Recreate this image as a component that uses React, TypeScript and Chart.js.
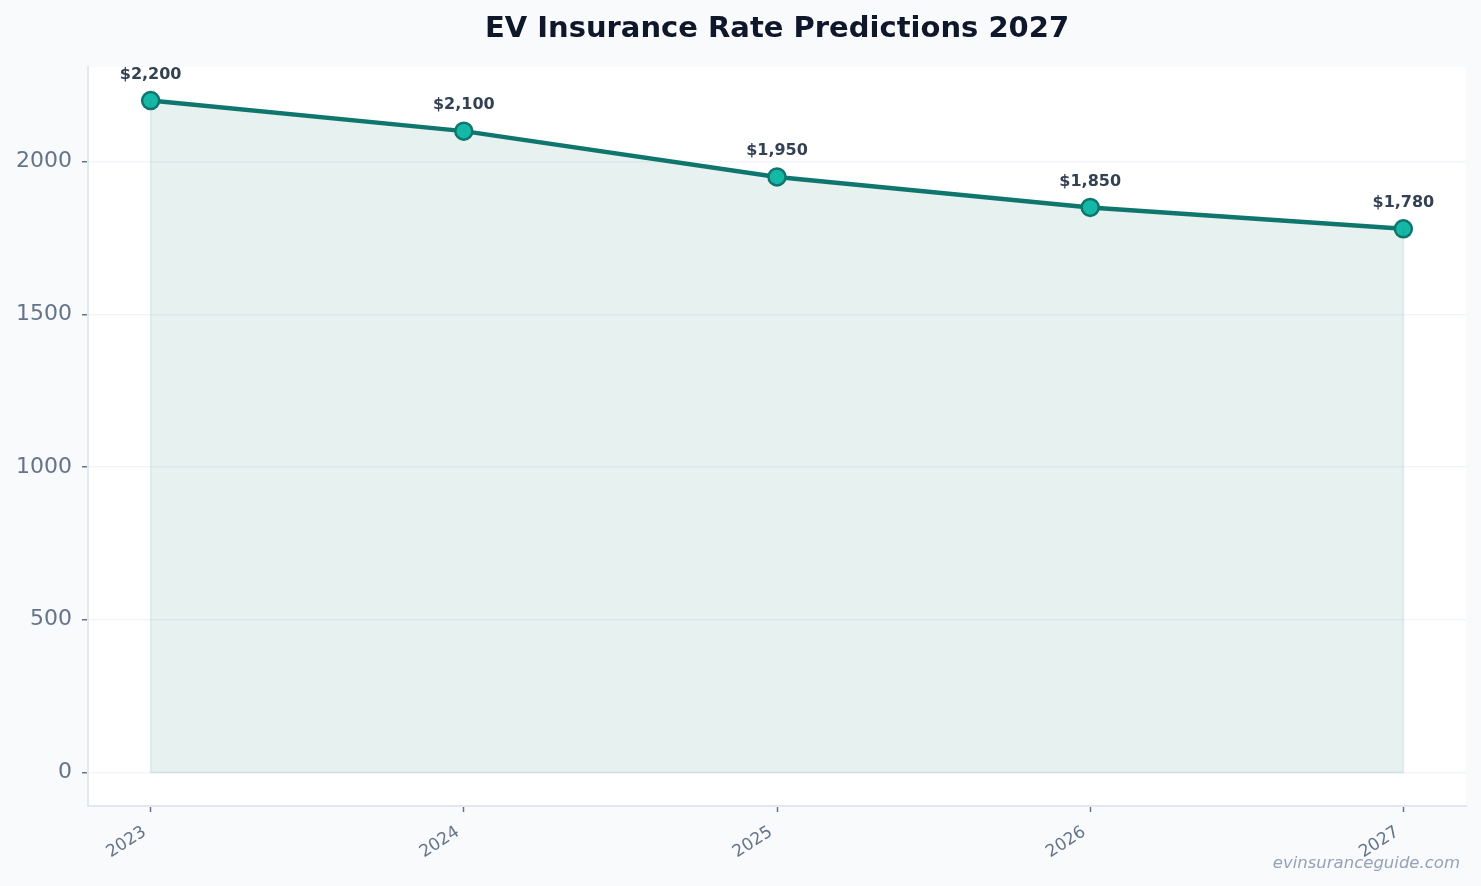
import { useEffect, useRef } from "react";
import { Chart, registerables } from "chart.js";

Chart.register(...registerables);

const years = [2023, 2024, 2025, 2026, 2027];
const rates = [2200, 2100, 1950, 1850, 1780];
const yTicks = [0, 500, 1000, 1500, 2000];

const FONT = "'DejaVu Sans', sans-serif";

const pagePlugin = {
  id: "page",
  beforeDraw(chart: any) {
    const { ctx, chartArea: a } = chart;
    ctx.save();
    ctx.fillStyle = "#f8fafc";
    ctx.fillRect(0, 0, chart.width, chart.height);
    ctx.fillStyle = "#ffffff";
    ctx.fillRect(a.left, a.top, a.right - a.left, a.bottom - a.top);
    ctx.restore();
  },
  afterDatasetsDraw(chart: any) {
    // thin edges of the filled area, like the reference
    const { ctx } = chart;
    const meta = chart.getDatasetMeta(0);
    const y0 = chart.scales.y.getPixelForValue(0);
    const first = meta.data[0];
    const last = meta.data[meta.data.length - 1];
    ctx.save();
    ctx.strokeStyle = "rgba(15,118,110,0.12)";
    ctx.lineWidth = 1.5;
    ctx.beginPath();
    ctx.moveTo(first.x, first.y);
    ctx.lineTo(first.x, y0);
    ctx.lineTo(last.x, y0);
    ctx.lineTo(last.x, last.y);
    ctx.stroke();
    ctx.restore();
  },
  afterDraw(chart: any) {
    const { ctx, chartArea: a } = chart;
    ctx.save();
    // title
    ctx.fillStyle = "#0f172a";
    ctx.font = `bold 29px ${FONT}`;
    ctx.textAlign = "center";
    ctx.textBaseline = "alphabetic";
    ctx.fillText("EV Insurance Rate Predictions 2027", (a.left + a.right) / 2, 37);

    // value labels
    const meta = chart.getDatasetMeta(0);
    ctx.font = `bold 16px ${FONT}`;
    ctx.fillStyle = "#334155";
    ctx.textBaseline = "middle";
    meta.data.forEach((pt: any, i: number) => {
      ctx.fillText("$" + rates[i].toLocaleString("en-US"), pt.x, pt.y - 26);
    });

    // watermark
    ctx.font = `italic 16.5px ${FONT}`;
    ctx.fillStyle = "#94a3b8";
    ctx.textAlign = "right";
    ctx.textBaseline = "alphabetic";
    ctx.fillText("evinsuranceguide.com", chart.width - 21, 868);
    ctx.restore();
  },
};

export default function App() {
  const canvasRef = useRef<HTMLCanvasElement | null>(null);
  const chartRef = useRef<Chart | null>(null);

  useEffect(() => {
    document.body.style.margin = "0";
    if (!canvasRef.current) return;
    const ctx = canvasRef.current.getContext("2d");
    if (!ctx) return;

    chartRef.current = new Chart(ctx, {
      type: "line",
      data: {
        datasets: [
          {
            data: years.map((y, i) => ({ x: y, y: rates[i] })),
            borderColor: "#0f766e",
            borderWidth: 4.5,
            backgroundColor: "rgba(15,118,110,0.1)",
            fill: "origin",
            tension: 0,
            pointRadius: 8.5,
            pointBorderWidth: 2.5,
            pointBackgroundColor: "#14b8a6",
            pointBorderColor: "#0f766e",
          },
        ],
      },
      options: {
        animation: false,
        responsive: true,
        maintainAspectRatio: false,
        layout: { padding: { top: 67, right: 15, left: 0, bottom: 0 } },
        plugins: {
          legend: { display: false },
          tooltip: { enabled: false },
          title: { display: false },
        },
        scales: {
          x: {
            type: "linear",
            min: 2022.8,
            max: 2027.2,
            afterBuildTicks: (s: any) => {
              s.ticks = years.map((v) => ({ value: v }));
            },
            afterFit: (s: any) => {
              s.height = 80;
            },
            ticks: {
              callback: (v: any) => String(v),
              color: "#64748b",
              font: { family: FONT, size: 17 },
              minRotation: 33,
              maxRotation: 33,
              padding: 10,
              labelOffset: -6,
            },
            grid: {
              drawOnChartArea: false,
              drawTicks: true,
              tickLength: 6,
              tickColor: "#64748b",
              tickWidth: 1.5,
            },
            border: { color: "#e2e8f0", width: 2 },
          },
          y: {
            min: -110,
            max: 2310,
            afterBuildTicks: (s: any) => {
              s.ticks = yTicks.map((v) => ({ value: v }));
            },
            afterFit: (s: any) => {
              s.width = 88;
            },
            ticks: {
              callback: (v: any) => String(v),
              color: "#64748b",
              font: { family: FONT, size: 22 },
              padding: 10,
            },
            grid: {
              color: "#f1f5f9",
              lineWidth: 1.5,
              drawTicks: true,
              tickLength: 6,
              tickColor: "#64748b",
              tickWidth: 1.5,
            },
            border: { color: "#e2e8f0", width: 2 },
          },
        },
      },
      plugins: [pagePlugin],
    });

    return () => {
      chartRef.current?.destroy();
    };
  }, []);

  return (
    <div style={{ position: "absolute", left: 0, top: 0, width: 1481, height: 886 }}>
      <canvas ref={canvasRef} />
    </div>
  );
}
